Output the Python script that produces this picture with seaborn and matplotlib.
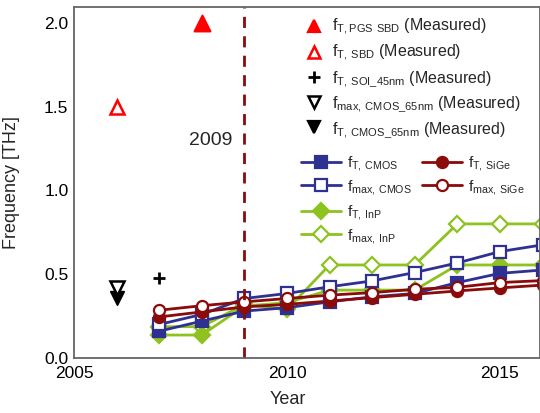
import numpy as np
import pandas as pd
import matplotlib
matplotlib.use("Agg")
import matplotlib.pyplot as plt
from matplotlib.lines import Line2D
import seaborn as sns

sns.set_style("white")
plt.rcParams['font.family'] = ['Liberation Sans', 'DejaVu Sans']
plt.rcParams['mathtext.default'] = 'regular'

# ---- data ----
years = [2007, 2008, 2009, 2010, 2011, 2012, 2013, 2014, 2015, 2016]
ft_cmos   = [0.16, 0.22, 0.28, 0.30, 0.335, 0.365, 0.385, 0.45, 0.505, 0.525]
fmax_cmos = [0.20, 0.26, 0.355, 0.385, 0.425, 0.46, 0.51, 0.567, 0.635, 0.675]
ft_sige   = [0.245, 0.275, 0.305, 0.32, 0.34, 0.36, 0.38, 0.40, 0.418, 0.435]
fmax_sige = [0.285, 0.312, 0.335, 0.355, 0.375, 0.39, 0.41, 0.422, 0.45, 0.462]
ft_inp    = [0.137, 0.137, 0.31, 0.33, 0.405, 0.405, 0.405, 0.555, 0.555, 0.555]
fmax_inp  = [0.187, 0.187, 0.32, 0.29, 0.555, 0.555, 0.555, 0.80, 0.80, 0.80]

meas_x = {'pgs': 2008, 'sbd': 2006, 'soi': 2007, 'fmax65': 2006, 'ft65': 2006}
meas_y = {'pgs': 2.0, 'sbd': 1.5, 'soi': 0.48, 'fmax65': 0.42, 'ft65': 0.36}
marker_year = 2009

BLUE = '#2E3192'
DRED = '#8B0A0A'
GREEN = '#8DC21F'
RED = '#FF0000'

fig = plt.figure(figsize=(5.40, 4.13), dpi=100)
ax = fig.add_axes([74/540, 55/413, 1 - 74/540, (358-7)/413])

ms = 8
lw = 2

def series(y, color, marker, filled):
    sns.lineplot(x=years, y=y, ax=ax, color=color, marker=marker, markersize=ms,
                 linewidth=lw, markerfacecolor=color if filled else 'white',
                 markeredgecolor=color, markeredgewidth=1.6, legend=False)

series(fmax_inp, GREEN, 'D', False)
series(ft_inp, GREEN, 'D', True)
series(ft_cmos, BLUE, 's', True)
series(fmax_cmos, BLUE, 's', False)
series(ft_sige, DRED, 'o', True)
series(fmax_sige, DRED, 'o', False)

# measured points
sns.scatterplot(x=[meas_x['pgs']], y=[meas_y['pgs']], ax=ax, marker='^', s=130,
                color=RED, edgecolor=RED, linewidth=1.5, zorder=5)
ax.plot([meas_x['sbd']], [meas_y['sbd']], marker='^', ms=10, mfc='white', mec=RED, mew=1.8, ls='none')
ax.plot([meas_x['soi']], [meas_y['soi']], marker='+', ms=9, mec='black', mew=2, ls='none')
ax.plot([meas_x['ft65']], [meas_y['ft65']], marker='v', ms=10, mfc='black', mec='black', ls='none')
ax.plot([meas_x['fmax65']], [meas_y['fmax65']], marker='v', ms=10, mfc='white', mec='black', mew=1.8, ls='none')

ax.axvline(marker_year, color=DRED, lw=2, ls=(0, (4, 3)))
ax.text(2008.72, 1.30, '2009', ha='right', va='center', fontsize=14)

ax.set_xlim(2005, 2015.94)
ax.set_ylim(0, 2.094)
ax.set_xticks([2005, 2010, 2015])
ax.set_yticks([0.0, 0.5, 1.0, 1.5, 2.0])
ax.set_yticklabels(['0.0', '0.5', '1.0', '1.5', '2.0'])
ax.tick_params(direction='in', length=4, width=1, colors='#555555', labelcolor='black', labelsize=12.5)
ax.tick_params(axis='x', pad=6)
ax.tick_params(axis='y', pad=4)
for lab in ax.get_yticklabels():
    lab.set_verticalalignment('center_baseline')
for s in ax.spines.values():
    s.set_color('#666666')
    s.set_linewidth(1.3)
ax.set_xlabel('Year', fontsize=13)
ax.set_ylabel('Frequency [THz]', fontsize=13)
ax.xaxis.set_label_coords((288-74)/466, -0.095)
ax.yaxis.set_label_coords(-0.115, 0.5)

# legends
def h(color, marker, filled, line=True, ms_=ms, mew=1.6):
    return Line2D([], [], color=color, marker=marker, markersize=ms_,
                  ls='-' if line else 'none', lw=lw,
                  mfc=color if filled else 'white', mec=color, mew=mew)

leg1_h = [h(RED, '^', True, False, 9), h(RED, '^', False, False, 9, 1.8),
          h('black', '+', True, False, 9, 2), h('black', 'v', False, False, 9, 1.8),
          h('black', 'v', True, False, 9)]
leg1_l = [r'$f_{T,PGS\ SBD}$ (Measured)', r'$f_{T,\,SBD}$ (Measured)',
          r'$f_{T,\,SOI\_45nm}$ (Measured)', r'$f_{max,\,CMOS\_65nm}$ (Measured)',
          r'$f_{T,\,CMOS\_65nm}$ (Measured)']

def fig_leg(handles, labels, x, y, spacing=0.35, hl=2.2, fs=11):
    lg = fig.legend(handles, labels, loc='upper left', bbox_to_anchor=(x/540, 1 - y/413),
                    frameon=False, fontsize=fs, handlelength=hl, handletextpad=0.4,
                    labelspacing=spacing, borderaxespad=0, borderpad=0)
    return lg

fig_leg(leg1_h, leg1_l, 302, 17, spacing=0.36, hl=1.5, fs=11.5)
fig_leg([h(BLUE, 's', True), h(BLUE, 's', False)],
        [r'$f_{T,\,CMOS}$', r'$f_{max,\,CMOS}$'], 301, 154, spacing=0.3, hl=2.6)
fig_leg([h(DRED, 'o', True), h(DRED, 'o', False)],
        [r'$f_{T,\,SiGe}$', r'$f_{max,\,SiGe}$'], 422, 154, spacing=0.3, hl=2.6)
fig_leg([h(GREEN, 'D', True), h(GREEN, 'D', False)],
        [r'$f_{T,\,InP}$', r'$f_{max,\,InP}$'], 301, 203, spacing=0.3, hl=2.6)

fig.savefig('out.png', dpi=100)
